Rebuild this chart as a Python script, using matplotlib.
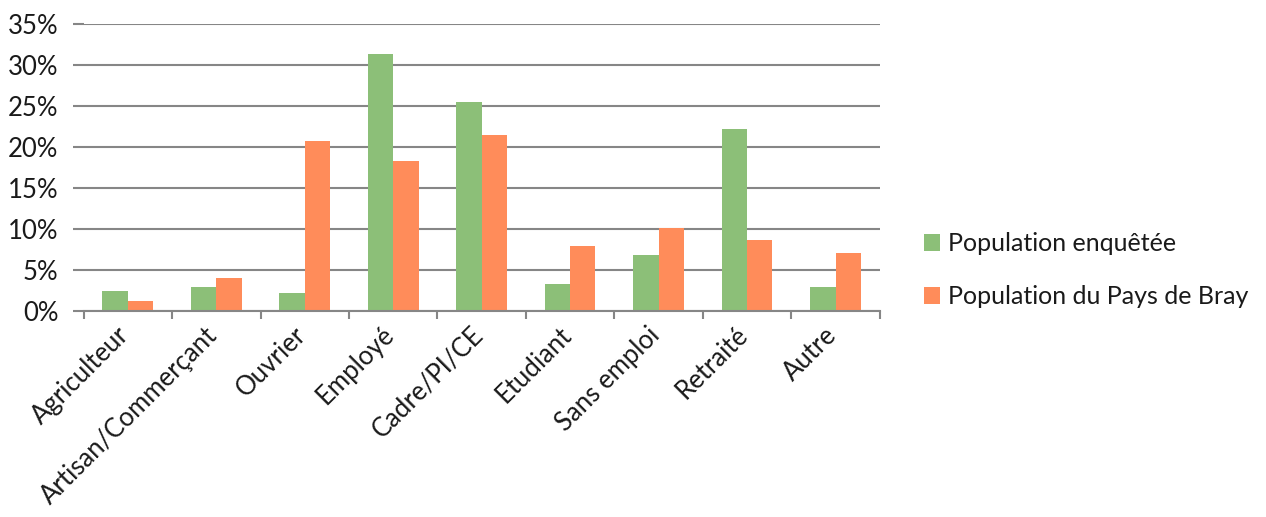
import numpy as np
import matplotlib.pyplot as plt
from matplotlib.ticker import FuncFormatter, MultipleLocator, FixedLocator

plt.rcParams['font.family'] = ['Lato', 'DejaVu Sans']

categories = ["Agriculteur", "Artisan/Commerçant", "Ouvrier", "Employé", "Cadre/PI/CE",
              "Etudiant", "Sans emploi", "Retraité", "Autre"]
enquetee = [2.5, 2.9, 2.2, 31.3, 25.5, 3.3, 6.9, 22.2, 2.9]
pays_bray = [1.2, 4.0, 20.7, 18.3, 21.5, 8.0, 10.1, 8.7, 7.1]

green = "#8cbf78"
orange = "#ff8c5a"
grey = "#868686"

fig = plt.figure(figsize=(12.66, 5.17), dpi=100)
ax = fig.add_axes([0.066, 0.398, 0.629, 0.556])

x = np.arange(len(categories))
w = 0.286
ax.bar(x - w / 2, enquetee, w, color=green, label="Population enquêtée", zorder=3)
ax.bar(x + w / 2, pays_bray, w, color=orange, label="Population du Pays de Bray", zorder=3)

ax.set_xlim(-0.5, len(categories) - 0.5)
ax.set_ylim(0, 35)
ax.yaxis.set_major_locator(MultipleLocator(5))
ax.yaxis.set_major_formatter(FuncFormatter(lambda v, p: f"{v:.0f}%"))
ax.grid(axis="y", color=grey, linewidth=1.5, zorder=0)

for s in ["top", "right", "left"]:
    ax.spines[s].set_visible(False)
ax.spines["bottom"].set_color(grey)
ax.spines["bottom"].set_linewidth(1.5)
ax.spines["bottom"].set_zorder(4)

# ticks sit on category boundaries, labels at the centres
ax.xaxis.set_major_locator(FixedLocator(np.arange(len(categories) + 1) - 0.5))
ax.xaxis.set_minor_locator(FixedLocator(x + 0.07))
ax.set_xticklabels([])
ax.set_xticklabels(categories, minor=True, rotation=45, ha="right", va="top",
                   fontsize=18.5, color="#1a1a1a")
ax.tick_params(axis="x", which="major", length=6, width=1.5, color=grey)
ax.tick_params(axis="x", which="minor", length=0, pad=8)
ax.tick_params(axis="y", length=8, width=1.5, color=grey, labelsize=18.5,
               labelcolor="#1a1a1a", pad=10)

fig.legend(loc="center left", bbox_to_anchor=(0.712, 0.477), frameon=False,
           fontsize=18, handlelength=0.65, handleheight=0.65, handletextpad=0.3,
           labelspacing=1.2, labelcolor="#1a1a1a")

fig.savefig("out.png", dpi=100)
